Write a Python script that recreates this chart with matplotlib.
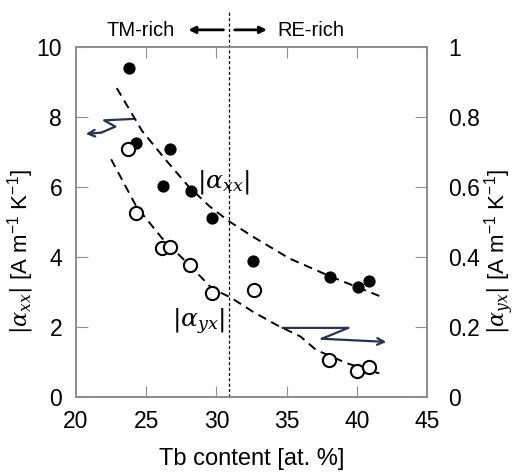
import matplotlib
matplotlib.use('Agg')
import matplotlib.pyplot as plt
import numpy as np

plt.rcParams['font.family'] = ['Liberation Sans', 'DejaVu Sans']
plt.rcParams['mathtext.fontset'] = 'custom'
plt.rcParams['mathtext.rm'] = 'DejaVu Serif'
plt.rcParams['mathtext.it'] = 'DejaVu Serif:italic'
plt.rcParams['mathtext.sf'] = 'Liberation Sans'

# |alpha_xx| (left axis), filled symbols
tb_xx = [23.8, 24.3, 26.7, 26.2, 28.2, 29.7, 32.6, 38.1, 40.1, 40.9]
alpha_xx = [9.40, 7.26, 7.08, 6.04, 5.89, 5.10, 3.89, 3.44, 3.14, 3.32]

# |alpha_yx| (right axis), open symbols
tb_yx = [23.7, 24.3, 26.15, 26.7, 28.1, 29.7, 32.7, 38.0, 40.0, 40.9]
alpha_yx = [0.708, 0.525, 0.425, 0.428, 0.377, 0.298, 0.306, 0.106, 0.076, 0.087]

# dashed guide curves
fit_xx_x = [22.9, 24.7, 26.5, 28.0, 29.5, 30.9, 32.6, 35.2, 38.1, 41.6]
fit_xx_y = [8.82, 7.60, 6.72, 6.02, 5.45, 5.02, 4.58, 3.96, 3.45, 2.89]
fit_yx_x = [22.5, 24.3, 26.1, 28.1, 29.7, 31.0, 32.6, 34.3, 36.0, 37.1, 39.3, 41.6]
fit_yx_y = [0.679, 0.544, 0.455, 0.376, 0.310, 0.285, 0.244, 0.206, 0.173, 0.135, 0.097, 0.068]

# squiggle arrows (x, y in left axis units)
sq_left_x = [24.1, 22.0, 22.8, 21.8, 20.7]
sq_left_y = [7.94, 7.90, 7.72, 7.55, 7.51]
sq_right_x = [34.7, 39.4, 37.5, 42.1]
sq_right_y = [1.98, 1.98, 1.67, 1.58]

x_ticks = [20, 25, 30, 35, 40, 45]
y_ticks = [0, 2, 4, 6, 8, 10]
y2_ticks = [0, 0.2, 0.4, 0.6, 0.8, 1]
y2_labels = ['0', '0.2', '0.4', '0.6', '0.8', '1']

boundary = 30.9
navy = '#2b3250'
grey = '#8f8f8f'

fig = plt.figure(figsize=(5.15, 4.75), dpi=100)
ax = fig.add_axes([0.1476, 0.1636, 0.6816, 0.7381])
ax2 = ax.twinx()

ax.set_xlim(20, 45)
ax.set_ylim(0, 10)
ax2.set_ylim(0, 1)
ax.set_xticks(x_ticks)
ax.set_yticks(y_ticks)
ax2.set_yticks(y2_ticks)
ax2.set_yticklabels(y2_labels)

for a in (ax, ax2):
    for s in a.spines.values():
        s.set_color(grey)
        s.set_linewidth(1.3)

ax.tick_params(axis='x', direction='in', length=8, color=grey, labelsize=16.5, pad=9, top=True)
ax.tick_params(axis='y', direction='in', length=8.5, color=grey, labelsize=16.5, pad=10)
ax2.tick_params(axis='y', direction='in', length=8.5, color=grey, labelsize=16.5, pad=15)

# data
ax.plot(fit_xx_x, fit_xx_y, ls=(0, (4.5, 3)), color='k', lw=1.4)
ax.plot(tb_xx, alpha_xx, 'o', color='k', ms=7.8, zorder=3)
ax2.plot(fit_yx_x, fit_yx_y, ls=(0, (4.5, 3)), color='k', lw=1.4)
ax2.plot(tb_yx, alpha_yx, 'o', mfc='white', mec='k', mew=1.5, ms=9.5, zorder=3)

# TM/RE boundary
ax2.plot([boundary, boundary], [0, 1.1], ls=(0, (2.5, 1.8)), color='k', lw=0.9, clip_on=False)
ax.text(24.6, 10.45, 'TM-rich', ha='center', va='center', fontsize=14.5)
ax.text(36.7, 10.45, 'RE-rich', ha='center', va='center', fontsize=14.5)
ax.annotate('', xy=(28.0, 10.48), xytext=(30.5, 10.48), annotation_clip=False,
            arrowprops=dict(arrowstyle='-|>', color='k', lw=2, mutation_scale=10, shrinkA=0, shrinkB=0))
ax.annotate('', xy=(33.6, 10.48), xytext=(31.3, 10.48), annotation_clip=False,
            arrowprops=dict(arrowstyle='-|>', color='k', lw=2, mutation_scale=10, shrinkA=0, shrinkB=0))

# curve labels
ax.text(30.5, 6.14, r'$|\alpha_{xx}|$', ha='center', va='center', fontsize=18)
ax.text(28.7, 2.15, r'$|\alpha_{yx}|$', ha='center', va='center', fontsize=18)

# squiggle arrows
ax.plot(sq_left_x[:-1], sq_left_y[:-1], color=navy, lw=1.6, solid_capstyle='round')
ax.annotate('', xy=(sq_left_x[-1], sq_left_y[-1]), xytext=(sq_left_x[-2], sq_left_y[-2]),
            arrowprops=dict(arrowstyle='->', color=navy, lw=1.6, mutation_scale=12, shrinkA=0, shrinkB=0))
ax.plot(sq_right_x[:-1], sq_right_y[:-1], color=navy, lw=1.6, solid_capstyle='round')
ax.annotate('', xy=(sq_right_x[-1], sq_right_y[-1]), xytext=(sq_right_x[-2], sq_right_y[-2]),
            arrowprops=dict(arrowstyle='->', color=navy, lw=1.6, mutation_scale=12, shrinkA=0, shrinkB=0))

ax.set_xlabel('Tb content [at. %]', fontsize=17)
ax.xaxis.set_label_coords(0.5, -0.145)
ax.set_ylabel(r'$|\alpha_{xx}|$ [A m$^{\mathsf{-1}}$ K$^{\mathsf{-1}}$]', fontsize=16)
ax.yaxis.set_label_coords(-0.114, 0.415)
ax2.set_ylabel(r'$|\alpha_{yx}|$ [A m$^{\mathsf{-1}}$ K$^{\mathsf{-1}}$]', fontsize=16, rotation=90)
ax2.yaxis.set_label_coords(1.158, 0.415)

fig.savefig('out.png', dpi=100)
